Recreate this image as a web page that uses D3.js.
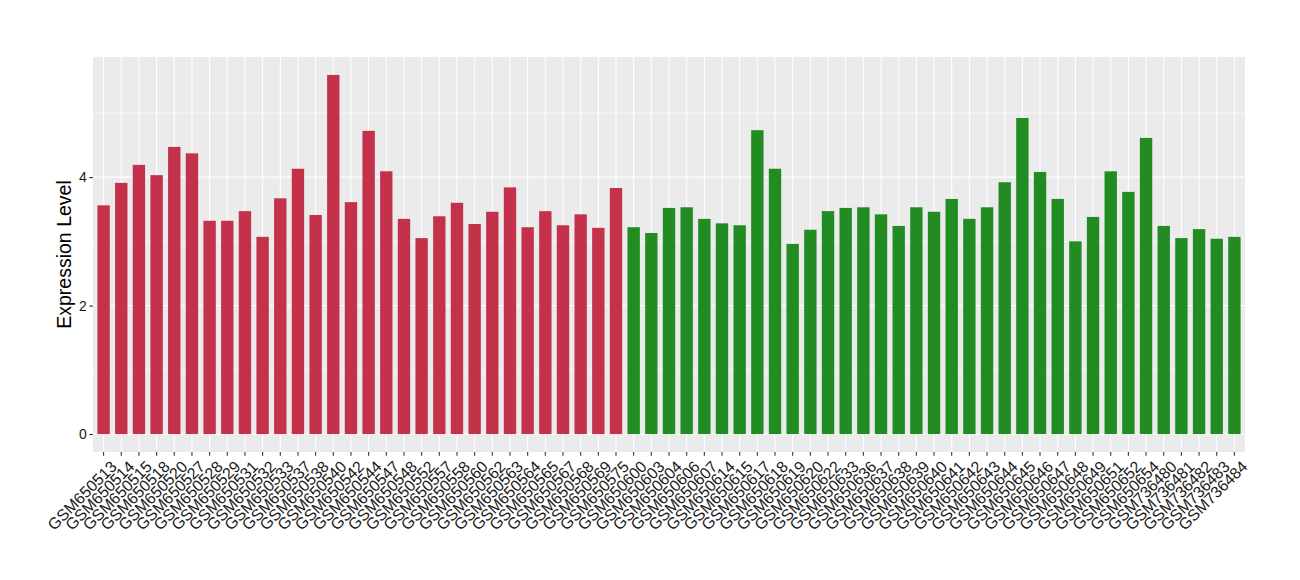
<!DOCTYPE html>
<html>
<head>
<meta charset="utf-8">
<script src="https://cdn.jsdelivr.net/npm/d3@7"></script>
<style>
  html, body { margin: 0; padding: 0; background: #ffffff; }
  svg { display: block; }
  text { font-family: "Liberation Sans", Arial, sans-serif; }
</style>
</head>
<body>
<svg id="chart" width="1300" height="580"></svg>
<script>
// ---- data ----
const groupACategories = ["GSM650513","GSM650514","GSM650515","GSM650518","GSM650520","GSM650527","GSM650528","GSM650529","GSM650531","GSM650532","GSM650533","GSM650537","GSM650538","GSM650540","GSM650542","GSM650544","GSM650547","GSM650548","GSM650552","GSM650557","GSM650558","GSM650560","GSM650562","GSM650563","GSM650564","GSM650565","GSM650567","GSM650568","GSM650569","GSM650575"];
const groupAValues = [3.56,3.91,4.19,4.03,4.47,4.37,3.32,3.32,3.47,3.07,3.67,4.13,3.41,5.59,3.61,4.72,4.09,3.35,3.05,3.39,3.60,3.27,3.46,3.84,3.22,3.47,3.25,3.42,3.21,3.83];
const groupBCategories = ["GSM650600","GSM650603","GSM650604","GSM650606","GSM650607","GSM650614","GSM650615","GSM650617","GSM650618","GSM650619","GSM650620","GSM650622","GSM650633","GSM650636","GSM650637","GSM650638","GSM650639","GSM650640","GSM650641","GSM650642","GSM650643","GSM650644","GSM650645","GSM650646","GSM650647","GSM650648","GSM650649","GSM650651","GSM650652","GSM650654","GSM736480","GSM736481","GSM736482","GSM736483","GSM736484"];
const groupBValues = [3.22,3.13,3.52,3.53,3.35,3.28,3.25,4.73,4.13,2.96,3.18,3.47,3.52,3.53,3.42,3.24,3.53,3.46,3.66,3.35,3.53,3.92,4.92,4.08,3.66,3.00,3.38,4.09,3.77,4.61,3.24,3.05,3.19,3.04,3.07];
const yTicks = [0, 2, 4];
const yMinorTicks = [1, 3, 5];
const yTitle = "Expression Level";
const colorA = "#C3324A";
const colorB = "#228B22";

// ---- build table ----
const rows = groupACategories.map((c, i) => ({cat: c, val: groupAValues[i], grp: "A"}))
  .concat(groupBCategories.map((c, i) => ({cat: c, val: groupBValues[i], grp: "B"})));

const svg = d3.select("#chart");
const panel = {left: 93, right: 1245, top: 57, bottom: 452};

const x = d3.scaleBand()
  .domain(rows.map(d => d.cat))
  .range([panel.left, panel.right])
  .paddingInner(0.3)
  .paddingOuter(0.25);

const maxV = d3.max(rows, d => d.val);
const ex = maxV * 0.05;
const y = d3.scaleLinear().domain([-ex, maxV + ex]).range([panel.bottom, panel.top]);

// panel background
svg.append("rect")
  .attr("x", panel.left).attr("y", panel.top)
  .attr("width", panel.right - panel.left).attr("height", panel.bottom - panel.top)
  .attr("fill", "#EBEBEB");

// minor horizontal grid
svg.append("g").selectAll("line").data(yMinorTicks).join("line")
  .attr("x1", panel.left).attr("x2", panel.right)
  .attr("y1", d => y(d)).attr("y2", d => y(d))
  .attr("stroke", "#ffffff").attr("stroke-width", 0.55);

// major horizontal grid
svg.append("g").selectAll("line").data(yTicks).join("line")
  .attr("x1", panel.left).attr("x2", panel.right)
  .attr("y1", d => y(d)).attr("y2", d => y(d))
  .attr("stroke", "#ffffff").attr("stroke-width", 1.1);

// vertical grid at band centers
svg.append("g").selectAll("line").data(rows).join("line")
  .attr("x1", d => x(d.cat) + x.bandwidth() / 2).attr("x2", d => x(d.cat) + x.bandwidth() / 2)
  .attr("y1", panel.top).attr("y2", panel.bottom)
  .attr("stroke", "#ffffff").attr("stroke-width", 1.1);

// bars
svg.append("g").selectAll("rect").data(rows).join("rect")
  .attr("x", d => x(d.cat))
  .attr("width", x.bandwidth())
  .attr("y", d => y(d.val))
  .attr("height", d => y(0) - y(d.val))
  .attr("fill", d => d.grp === "A" ? colorA : colorB);

// x axis
const xAxis = d3.axisBottom(x).tickSizeInner(3.7).tickSizeOuter(0).tickPadding(2);
const gx = svg.append("g").attr("transform", `translate(0,${panel.bottom})`).call(xAxis);
gx.select(".domain").remove();
gx.selectAll(".tick line").attr("stroke", "#333333").attr("stroke-width", 1.1);
gx.selectAll(".tick text")
  .attr("fill", "#1a1a1a")
  .style("font-size", "16px")
  .attr("text-anchor", "end")
  .attr("y", 0)
  .attr("transform", "translate(6,7.5) rotate(-45)")
  .attr("dy", "0.72em");

// y axis
const yAxis = d3.axisLeft(y).tickValues(yTicks).tickSizeInner(3.7).tickSizeOuter(0).tickPadding(2.5)
  .tickFormat(d3.format("d"));
const gy = svg.append("g").attr("transform", `translate(${panel.left},0)`).call(yAxis);
gy.select(".domain").remove();
gy.selectAll(".tick line").attr("stroke", "#333333").attr("stroke-width", 1.1);
gy.selectAll(".tick text").attr("fill", "#1a1a1a").style("font-size", "14px");

// y title
svg.append("text")
  .attr("transform", `translate(70.5,${(panel.top + panel.bottom) / 2}) rotate(-90)`)
  .attr("text-anchor", "middle")
  .style("font-size", "19.5px")
  .attr("fill", "#000000")
  .text(yTitle);
</script>
</body>
</html>
